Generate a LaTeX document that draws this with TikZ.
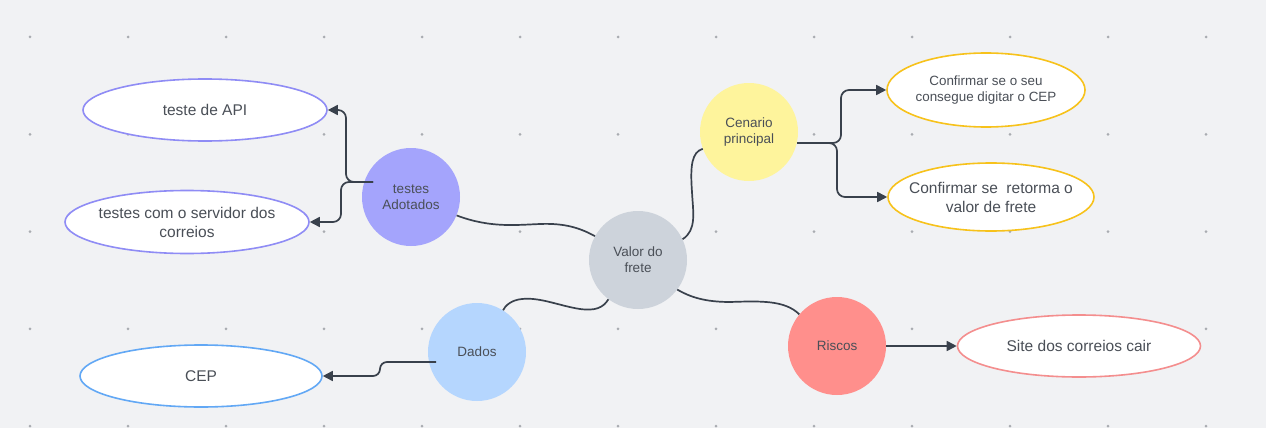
\documentclass[tikz,border=0pt]{standalone}
\usepackage{fontspec}
\setmainfont{Liberation Sans}
\usetikzlibrary{shapes.geometric,arrows.meta}
\definecolor{bg}{HTML}{F1F2F4}
\definecolor{dotc}{HTML}{A9ACB1}
\definecolor{txt}{HTML}{4A4F57}
\definecolor{linec}{HTML}{39414C}
\definecolor{cpurple}{HTML}{A4A4FC}
\definecolor{bpurple}{HTML}{8F8CF5}
\definecolor{cgray}{HTML}{CDD3DB}
\definecolor{cyellow}{HTML}{FEF49C}
\definecolor{byellow}{HTML}{F7C21B}
\definecolor{cblue}{HTML}{B5D6FE}
\definecolor{bblue}{HTML}{62A8F5}
\definecolor{cred}{HTML}{FF8F8C}
\definecolor{bred}{HTML}{F48E8E}
\tikzset{
  hub/.style={circle, minimum size=98pt, inner sep=0pt, text=txt, align=center,
    font=\fontsize{13.5}{16}\selectfont},
  leaf/.style={ellipse, fill=white, line width=1.6pt, inner sep=0pt},
  leaftext/.style={text=txt, align=center, inner sep=0pt, font=\fontsize{15.5}{19}\selectfont},
  conn/.style={draw=linec, line width=1.7pt},
  arr/.style={conn, -{Triangle[length=10pt,width=10pt]}},
}
\begin{document}
\begin{tikzpicture}[x=1pt,y=-1pt]
\fill[bg] (0,0) rectangle (1266,428);
\useasboundingbox (0,0) rectangle (1266,428);
% dot grid
\foreach \i in {0,...,12}{
  \foreach \j in {0,...,4}{
    \fill[dotc] ({30+98*\i},{37+97.3*\j}) circle (1.5);
  }
}
% hubs
\node[hub, fill=cpurple] (ta) at (411,197) {testes\\Adotados};
\node[hub, fill=cgray] (val) at (638,260) {Valor do\\frete};
\node[hub, fill=cyellow] (cen) at (749,132) {Cenario\\principal};
\node[hub, fill=cblue] (dad) at (477,352) {Dados};
\node[hub, fill=cred] (ris) at (837,346) {Riscos};
% leaves
\node[leaf, draw=bpurple, minimum width=244pt, minimum height=62pt] (api) at (205,110) {};
\node[leaftext] (apit) at (api.center) {teste de API};
\node[leaf, draw=bpurple, minimum width=244pt, minimum height=63pt] (serv) at (187,222) {};
\node[leaftext] (servt) at (serv.center) {testes com o servidor dos\\correios};
\node[leaf, draw=byellow, minimum width=198pt, minimum height=74pt] (cf1) at (986,90) {};
\node[leaftext, font=\fontsize{13.4}{16}\selectfont] (cf1t) at (cf1.center) {Confirmar se o seu\\consegue digitar o CEP};
\node[leaf, draw=byellow, minimum width=206pt, minimum height=68pt] (cf2) at (991,197) {};
\node[leaftext] (cf2t) at (cf2.center) {Confirmar se\ \ retorma o\\valor de frete};
\node[leaf, draw=bblue, minimum width=242pt, minimum height=62pt] (cep) at (201,376) {};
\node[leaftext] (cept) at (cep.center) {CEP};
\node[leaf, draw=bred, minimum width=243pt, minimum height=62pt] (site) at (1079,346) {};
\node[leaftext] (sitet) at (site.center) {Site dos correios cair};
% connectors
\draw[arr, rounded corners=8pt] ([shift={(-38,-15)}]ta.center) -- ++(-27,0) |- (api.east);
\draw[arr, rounded corners=8pt] ([shift={(-38,-15)}]ta.center) -- ++(-32,0) |- (serv.east);
\draw[conn] (ta.338) .. controls (490,228) and (515,225) .. (540,224)
  .. controls (565,223) and (580,228) .. (val.151);
\draw[conn] (val.25) .. controls (697,230) and (693,212) .. (692,192)
  .. controls (690,165) and (692,152) .. (cen.200);
\draw[arr, rounded corners=8pt] ([shift={(48,11)}]cen.center) -- ++(44,0) |- (cf1.west);
\draw[arr, rounded corners=8pt] ([shift={(48,11)}]cen.center) -- ++(40,0) |- (cf2.west);
\draw[conn] (val.233) .. controls (603,308) and (595,311) .. (580,309)
  .. controls (560,306) and (540,297) .. (522,299)
  .. controls (511,300) and (505,306) .. (dad.58);
\draw[conn] (val.323) .. controls (690,297) and (705,302) .. (730,302)
  .. controls (760,301) and (785,300) .. (ris.140);
\draw[arr, rounded corners=7pt] ([shift={(-41,10)}]dad.center) -- ++(-56,0) |- (cep.east);
\draw[arr] (ris.east) -- (site.west);
\end{tikzpicture}
\end{document}
